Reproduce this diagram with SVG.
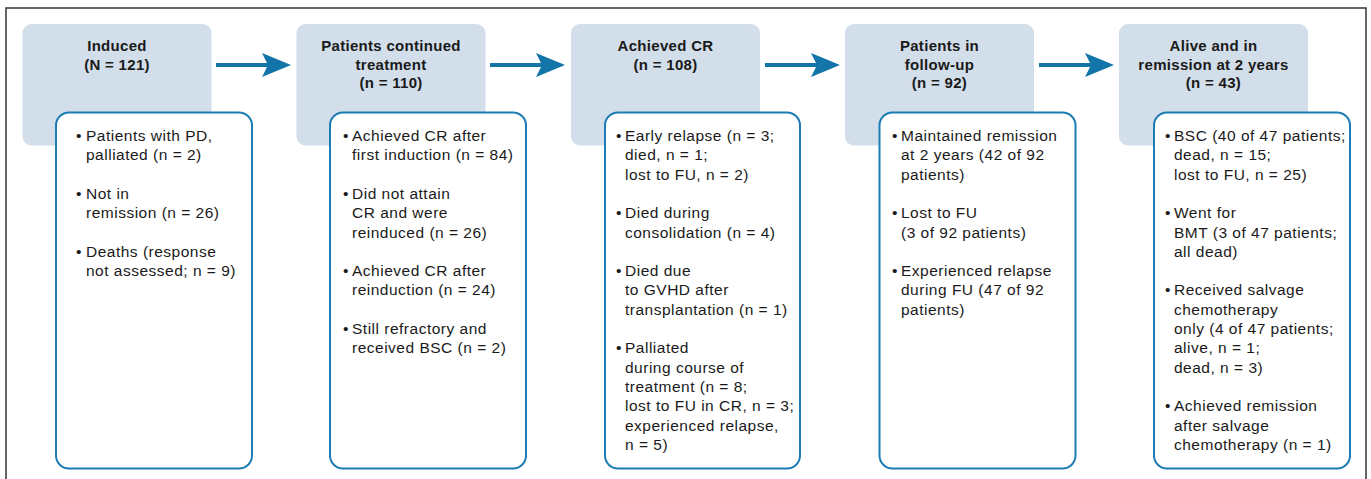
<svg xmlns="http://www.w3.org/2000/svg" width="1371" height="479" viewBox="0 0 1371 479">
<style>
.hdr{fill:#d2deea}
.det{fill:#fff;stroke:#1b7db3;stroke-width:2}
.ht{font-family:"Liberation Sans",Arial,sans-serif;font-weight:bold;font-size:15px;letter-spacing:0.3px;fill:#1a1a1a;text-anchor:middle}
.bt{font-family:"Liberation Sans",Arial,sans-serif;font-size:15.5px;letter-spacing:0.5px;fill:#1a1a1a}
.conn line{stroke:#1274a8;stroke-width:4}
.conn path{fill:#1274a8}
</style>
<rect x="6" y="8" width="1360" height="480" fill="#fff" stroke="#333" stroke-width="1.5"/>
<g id="connectors" class="conn">
<line x1="216" y1="65" x2="268" y2="65"/><path d="M262,53 L291,65 L262,77 L268,65 Z"/>
<line x1="490" y1="65" x2="542" y2="65"/><path d="M536,53 L565,65 L536,77 L542,65 Z"/>
<line x1="765" y1="65" x2="817" y2="65"/><path d="M811,53 L840,65 L811,77 L817,65 Z"/>
<line x1="1039" y1="65" x2="1091" y2="65"/><path d="M1085,53 L1114,65 L1085,77 L1091,65 Z"/>
</g>
<g id="node1">
<rect class="hdr" x="22.5" y="24" width="189" height="121.5" rx="9"/>
<text class="ht" x="117" y="51">Induced</text>
<text class="ht" x="117" y="69.5">(N = 121)</text>
<rect class="det" x="56" y="112.5" width="196" height="356" rx="13"/>
<text class="bt"><tspan x="76" y="141">•</tspan><tspan x="86" y="141">Patients with PD,</tspan><tspan x="86" y="160.3">palliated (n = 2)</tspan><tspan x="76" y="198.9">•</tspan><tspan x="86" y="198.9">Not in</tspan><tspan x="86" y="218.2">remission (n = 26)</tspan><tspan x="76" y="256.8">•</tspan><tspan x="86" y="256.8">Deaths (response</tspan><tspan x="86" y="276.1">not assessed; n = 9)</tspan></text>
</g>
<g id="node2">
<rect class="hdr" x="296.5" y="24" width="189" height="121.5" rx="9"/>
<text class="ht" x="391" y="51">Patients continued</text>
<text class="ht" x="391" y="69.5">treatment</text>
<text class="ht" x="391" y="88">(n = 110)</text>
<rect class="det" x="330" y="112.5" width="196" height="356" rx="13"/>
<text class="bt"><tspan x="343" y="141">•</tspan><tspan x="352" y="141">Achieved CR after</tspan><tspan x="352" y="160.3">first induction (n = 84)</tspan><tspan x="343" y="198.9">•</tspan><tspan x="352" y="198.9">Did not attain</tspan><tspan x="352" y="218.2">CR and were</tspan><tspan x="352" y="237.5">reinduced (n = 26)</tspan><tspan x="343" y="276.1">•</tspan><tspan x="352" y="276.1">Achieved CR after</tspan><tspan x="352" y="295.4">reinduction (n = 24)</tspan><tspan x="343" y="334">•</tspan><tspan x="352" y="334">Still refractory and</tspan><tspan x="352" y="353.3">received BSC (n = 2)</tspan></text>
</g>
<g id="node3">
<rect class="hdr" x="571" y="24" width="189" height="121.5" rx="9"/>
<text class="ht" x="665.5" y="51">Achieved CR</text>
<text class="ht" x="665.5" y="69.5">(n = 108)</text>
<rect class="det" x="605" y="112.5" width="195" height="356" rx="13"/>
<text class="bt"><tspan x="616" y="141">•</tspan><tspan x="625" y="141">Early relapse (n = 3;</tspan><tspan x="625" y="160.3">died, n = 1;</tspan><tspan x="625" y="179.6">lost to FU, n = 2)</tspan><tspan x="616" y="218.2">•</tspan><tspan x="625" y="218.2">Died during</tspan><tspan x="625" y="237.5">consolidation (n = 4)</tspan><tspan x="616" y="276.1">•</tspan><tspan x="625" y="276.1">Died due</tspan><tspan x="625" y="295.4">to GVHD after</tspan><tspan x="625" y="314.7">transplantation (n = 1)</tspan><tspan x="616" y="353.3">•</tspan><tspan x="625" y="353.3">Palliated</tspan><tspan x="625" y="372.6">during course of</tspan><tspan x="625" y="391.9">treatment (n = 8;</tspan><tspan x="625" y="411.2">lost to FU in CR, n = 3;</tspan><tspan x="625" y="430.5">experienced relapse,</tspan><tspan x="625" y="449.8">n = 5)</tspan></text>
</g>
<g id="node4">
<rect class="hdr" x="845" y="24" width="189" height="121.5" rx="9"/>
<text class="ht" x="939.5" y="51">Patients in</text>
<text class="ht" x="939.5" y="69.5">follow-up</text>
<text class="ht" x="939.5" y="88">(n = 92)</text>
<rect class="det" x="879.5" y="112.5" width="196" height="356" rx="13"/>
<text class="bt"><tspan x="892" y="141">•</tspan><tspan x="901" y="141">Maintained remission</tspan><tspan x="901" y="160.3">at 2 years (42 of 92</tspan><tspan x="901" y="179.6">patients)</tspan><tspan x="892" y="218.2">•</tspan><tspan x="901" y="218.2">Lost to FU</tspan><tspan x="901" y="237.5">(3 of 92 patients)</tspan><tspan x="892" y="276.1">•</tspan><tspan x="901" y="276.1">Experienced relapse</tspan><tspan x="901" y="295.4">during FU (47 of 92</tspan><tspan x="901" y="314.7">patients)</tspan></text>
</g>
<g id="node5">
<rect class="hdr" x="1119" y="24" width="189" height="121.5" rx="9"/>
<text class="ht" x="1213.5" y="51">Alive and in</text>
<text class="ht" x="1213.5" y="69.5">remission at 2 years</text>
<text class="ht" x="1213.5" y="88">(n = 43)</text>
<rect class="det" x="1154" y="112.5" width="196" height="356" rx="13"/>
<text class="bt"><tspan x="1165" y="141">•</tspan><tspan x="1174" y="141">BSC (40 of 47 patients;</tspan><tspan x="1174" y="160.3">dead, n = 15;</tspan><tspan x="1174" y="179.6">lost to FU, n = 25)</tspan><tspan x="1165" y="218.2">•</tspan><tspan x="1174" y="218.2">Went for</tspan><tspan x="1174" y="237.5">BMT (3 of 47 patients;</tspan><tspan x="1174" y="256.8">all dead)</tspan><tspan x="1165" y="295.4">•</tspan><tspan x="1174" y="295.4">Received salvage</tspan><tspan x="1174" y="314.7">chemotherapy</tspan><tspan x="1174" y="334">only (4 of 47 patients;</tspan><tspan x="1174" y="353.3">alive, n = 1;</tspan><tspan x="1174" y="372.6">dead, n = 3)</tspan><tspan x="1165" y="411.2">•</tspan><tspan x="1174" y="411.2">Achieved remission</tspan><tspan x="1174" y="430.5">after salvage</tspan><tspan x="1174" y="449.8">chemotherapy (n = 1)</tspan></text>
</g>
</svg>
